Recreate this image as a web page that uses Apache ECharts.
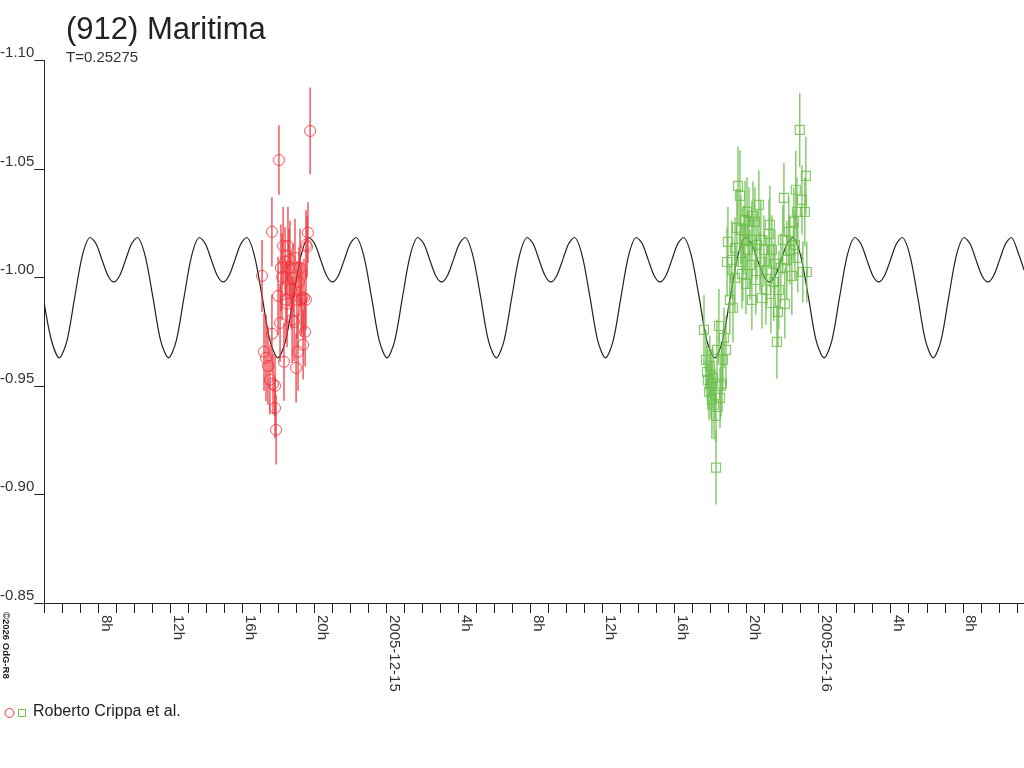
<!DOCTYPE html>
<html>
<head>
<meta charset="utf-8">
<title>(912) Maritima</title>
<script src="https://cdn.jsdelivr.net/npm/echarts@6.0.0/dist/echarts.min.js"></script>
<style>
  html, body { margin: 0; padding: 0; background: #fff; }
  #chart { width: 1024px; height: 768px; }
</style>
</head>
<body>
<div id="chart"></div>
<script>
// hours counted from 2005-12-14 00:00 UT, magnitudes are relative (axis inverted)
var dayLabels = ['2005-12-14', '2005-12-15', '2005-12-16'];
var yTicks = [-1.10, -1.05, -1.00, -0.95, -0.90, -0.85];

// fitted lightcurve, one row per rotation (P = 0.25275 d)
var curveHours = [5.00, 5.40,
  5.83, 6.26, 6.69, 7.12, 7.55, 7.88, 8.20, 8.53, 8.86, 9.19, 9.52, 9.84, 10.16, 10.59, 11.03, 11.46,
  11.90, 12.33, 12.76, 13.19, 13.62, 13.95, 14.27, 14.60, 14.93, 15.26, 15.59, 15.91, 16.23, 16.66, 17.10, 17.53,
  17.97, 18.40, 18.83, 19.26, 19.69, 20.02, 20.34, 20.67, 21.00, 21.33, 21.66, 21.98, 22.30, 22.73, 23.17, 23.60,
  24.03, 24.46, 24.89, 25.32, 25.75, 26.08, 26.40, 26.73, 27.06, 27.39, 27.72, 28.04, 28.36, 28.79, 29.23, 29.66,
  30.10, 30.53, 30.96, 31.39, 31.82, 32.15, 32.47, 32.80, 33.13, 33.46, 33.79, 34.11, 34.43, 34.86, 35.30, 35.73,
  36.16, 36.59, 37.02, 37.45, 37.88, 38.21, 38.53, 38.86, 39.19, 39.52, 39.85, 40.17, 40.49, 40.92, 41.36, 41.79,
  42.23, 42.66, 43.09, 43.52, 43.95, 44.28, 44.60, 44.93, 45.26, 45.59, 45.92, 46.24, 46.56, 46.99, 47.43, 47.86,
  48.30, 48.73, 49.16, 49.59, 50.02, 50.35, 50.67, 51.00, 51.33, 51.66, 51.99, 52.31, 52.63, 53.06, 53.50, 53.93,
  54.36, 54.79, 55.22, 55.65, 56.08, 56.41, 56.73, 57.06, 57.39, 57.72, 58.05, 58.37, 58.69, 59.12, 59.40];
var curveMags = [-0.988, -0.971,
  -0.963, -0.971, -0.991, -1.0104, -1.0185, -1.0155, -1.0083, -1.001, -0.998, -1.001, -1.0083, -1.0155, -1.0185, -1.0104, -0.991, -0.971,
  -0.963, -0.971, -0.991, -1.0104, -1.0185, -1.0155, -1.0083, -1.001, -0.998, -1.001, -1.0083, -1.0155, -1.0185, -1.0104, -0.991, -0.971,
  -0.963, -0.971, -0.991, -1.0104, -1.0185, -1.0155, -1.0083, -1.001, -0.998, -1.001, -1.0083, -1.0155, -1.0185, -1.0104, -0.991, -0.971,
  -0.963, -0.971, -0.991, -1.0104, -1.0185, -1.0155, -1.0083, -1.001, -0.998, -1.001, -1.0083, -1.0155, -1.0185, -1.0104, -0.991, -0.971,
  -0.963, -0.971, -0.991, -1.0104, -1.0185, -1.0155, -1.0083, -1.001, -0.998, -1.001, -1.0083, -1.0155, -1.0185, -1.0104, -0.991, -0.971,
  -0.963, -0.971, -0.991, -1.0104, -1.0185, -1.0155, -1.0083, -1.001, -0.998, -1.001, -1.0083, -1.0155, -1.0185, -1.0104, -0.991, -0.971,
  -0.963, -0.971, -0.991, -1.0104, -1.0185, -1.0155, -1.0083, -1.001, -0.998, -1.001, -1.0083, -1.0155, -1.0185, -1.0104, -0.991, -0.971,
  -0.963, -0.971, -0.991, -1.0104, -1.0185, -1.0155, -1.0083, -1.001, -0.998, -1.001, -1.0083, -1.0155, -1.0185, -1.0104, -0.991, -0.971,
  -0.963, -0.971, -0.991, -1.0104, -1.0185, -1.0155, -1.0083, -1.001, -0.998, -1.001, -1.0083, -1.0155, -1.0185, -1.0104, -1.0035];

// first night (red circles)
var redHours = [17.09, 17.20, 17.31, 17.42, 17.53, 17.64, 17.64, 17.70, 17.81, 17.81,
  17.87, 18.03, 18.09, 18.20, 18.26, 18.31, 18.37, 18.42, 18.48, 18.53,
  18.59, 18.64, 18.70, 18.76, 18.81, 18.87, 18.92, 18.98, 19.03, 19.09,
  19.14, 19.20, 19.26, 19.31, 19.37, 19.42, 19.48, 19.53, 19.59, 19.64,
  19.76, 19.53, 17.98, 18.14];
var redMags = [-1.0008, -0.9658, -0.9630, -0.9593, -0.9529, -0.9741, -1.0211, -0.9510, -0.9501, -0.9399,
  -0.9298, -1.0542, -0.9791, -1.0003, -1.0146, -0.9612, -1.0073, -0.9898, -0.9879, -1.0146,
  -1.0045, -1.0082, -0.9944, -0.9806, -0.9999, -0.9796, -1.0091, -0.9584, -0.9898, -0.9658,
  -0.9980, -1.0045, -0.9898, -0.9907, -0.9690, -0.9907, -0.9750, -0.9898, -1.0142, -1.0207,
  -1.0676, -1.0151, -0.9916, -1.0045];
var redErrs = [0.0166, 0.018, 0.020, 0.018, 0.016, 0.018, 0.016, 0.014, 0.014, 0.014,
  0.016, 0.016, 0.018, 0.020, 0.018, 0.018, 0.016, 0.018, 0.020, 0.018,
  0.018, 0.018, 0.018, 0.020, 0.016, 0.018, 0.018, 0.016, 0.018, 0.018,
  0.016, 0.018, 0.017, 0.016, 0.016, 0.018, 0.016, 0.014, 0.014, 0.014,
  0.020, 0.016, 0.018, 0.020];

// second night (green squares)
var greenHours = [41.63, 41.74, 41.80, 41.85, 41.91, 41.96, 42.02, 42.07, 42.13, 42.19,
  42.24, 42.30, 42.30, 42.35, 42.46, 42.52, 42.57, 42.63, 42.68, 42.74,
  42.85, 42.91, 42.96, 43.07, 43.18, 43.24, 43.35, 43.46, 43.52, 43.63,
  43.68, 43.74, 43.79, 43.85, 43.91, 43.96, 44.02, 44.07, 44.13, 44.18,
  44.29, 44.35, 44.46, 44.51, 44.57, 44.68, 44.74, 44.85, 44.96, 45.07,
  45.12, 45.24, 45.29, 45.35, 45.40, 45.51, 45.57, 45.68, 45.74, 45.79,
  45.90, 46.01, 46.07, 46.12, 46.23, 46.34, 46.40, 46.51, 46.62, 46.68,
  46.73, 46.79, 46.84, 46.95, 47.07, 47.12, 47.23, 47.29, 47.34, 43.35,
  44.29, 44.79];
var greenMags = [-0.9759, -0.9621, -0.9565, -0.9529, -0.9474, -0.9593, -0.9511, -0.9437, -0.9538, -0.9414,
  -0.9460, -0.9363, -0.9124, -0.9667, -0.9777, -0.9446, -0.9501, -0.9511, -0.9621, -0.9722,
  -0.9667, -1.0072, -1.0165, -0.9897, -1.0082, -0.9861, -1.0137, -1.0229, -1.0423, -1.0377,
  -1.0220, -1.0017, -1.0072, -1.0174, -1.0266, -0.9971, -1.0303, -1.0128, -1.0257, -1.0059,
  -1.0174, -1.0284, -1.0257, -0.9989, -1.0151, -1.0335, -1.0072, -0.9906, -1.0128, -0.9943,
  -1.0035, -1.0201, -1.0243, -0.9883, -1.0128, -0.9980, -1.0063, -0.9704, -0.9842, -0.9943,
  -1.0045, -1.0174, -1.0368, -0.9879, -1.0082, -1.0211, -1.0128, -1.0008, -1.0257, -1.0151,
  -1.0405, -1.0303, -1.0091, -1.0681, -1.0358, -1.0026, -1.0303, -1.0469, -1.0026, -0.9999,
  -0.9897, -1.0174];
var greenErrs = [0.016, 0.014, 0.012, 0.014, 0.013, 0.014, 0.016, 0.018, 0.014, 0.016,
  0.012, 0.012, 0.017, 0.014, 0.017, 0.014, 0.014, 0.013, 0.014, 0.014,
  0.016, 0.016, 0.016, 0.016, 0.018, 0.016, 0.014, 0.018, 0.018, 0.021,
  0.016, 0.016, 0.018, 0.016, 0.018, 0.014, 0.016, 0.018, 0.016, 0.016,
  0.018, 0.016, 0.016, 0.016, 0.016, 0.016, 0.014, 0.014, 0.016, 0.016,
  0.016, 0.016, 0.018, 0.014, 0.016, 0.018, 0.016, 0.017, 0.016, 0.018,
  0.016, 0.016, 0.016, 0.016, 0.018, 0.016, 0.016, 0.018, 0.016, 0.016,
  0.018, 0.016, 0.016, 0.017, 0.016, 0.014, 0.016, 0.018, 0.014, 0.016,
  0.014, 0.018];

var RED = '#ee2f36';
var GREEN = '#6cbe4b';
var INK = '#222';
var FONT = '"Liberation Sans", Arial, sans-serif';

function zip(xs, ys, es) {
  var out = [];
  for (var i = 0; i < xs.length; i++) {
    out.push(es ? [xs[i], ys[i], es[i]] : [xs[i], ys[i]]);
  }
  return out;
}

function errorBars(color) {
  return function (params, api) {
    var x = api.value(0), y = api.value(1), e = api.value(2);
    var p1 = api.coord([x, y - e]);
    var p2 = api.coord([x, y + e]);
    return {
      type: 'line',
      shape: { x1: p1[0], y1: p1[1], x2: p2[0], y2: p2[1] },
      style: { stroke: color, lineWidth: 1.2 }
    };
  };
}

var chart = echarts.init(document.getElementById('chart'), null, { renderer: 'canvas' });

chart.setOption({
  animation: false,
  backgroundColor: '#fff',
  grid: { left: 44.3, right: 0, top: 60.7, bottom: 165, outerBoundsMode: 'none', containLabel: false },
  xAxis: {
    type: 'value',
    min: 5,
    max: 59.4,
    interval: 1,
    axisLine: { lineStyle: { color: INK, width: 1 } },
    axisTick: { length: 10, lineStyle: { color: INK } },
    splitLine: { show: false },
    axisLabel: {
      interval: 0,
      rotate: -90,
      margin: 12,
      verticalAlign: 'bottom',
      showMaxLabel: false,
      color: '#333',
      fontSize: 15,
      fontFamily: FONT,
      formatter: function (v) {
        var r = Math.round(v);
        if (Math.abs(v - r) > 1e-6 || r % 4 !== 0) return '';
        if (r % 24 === 0) return dayLabels[r / 24];
        return (r % 24) + 'h';
      }
    }
  },
  yAxis: {
    type: 'value',
    inverse: true,
    min: yTicks[0],
    max: yTicks[yTicks.length - 1],
    interval: 0.05,
    axisLine: { show: true, lineStyle: { color: INK, width: 1 } },
    axisTick: { show: true, length: 10, lineStyle: { color: INK } },
    splitLine: { show: false },
    axisLabel: {
      margin: 10,
      verticalAlign: 'bottom',
      color: '#333',
      fontSize: 15,
      fontFamily: FONT,
      formatter: function (v) { return v.toFixed(2); }
    }
  },
  graphic: [
    { type: 'text', left: 66, top: 15, style: { text: '(912) Maritima', fill: INK, font: '31px ' + FONT } },
    { type: 'text', left: 66, top: 50, style: { text: 'T=0.25275', fill: '#333', font: '15px ' + FONT } },
    { type: 'line', shape: { x1: 36, y1: 603.5, x2: 45, y2: 603.5 }, style: { stroke: INK, lineWidth: 1 } },
    { type: 'text', x: 1, y: 612, rotation: -Math.PI / 2,
      style: { text: '\u00a92026 OdG-R8', fill: '#222', font: 'bold 9.5px ' + FONT, verticalAlign: 'bottom' } },
    { type: 'circle', shape: { cx: 9.5, cy: 713, r: 4.5 }, style: { fill: 'none', stroke: RED, lineWidth: 1 } },
    { type: 'rect', shape: { x: 18.5, y: 709.5, width: 7, height: 7 }, style: { fill: 'none', stroke: GREEN, lineWidth: 1 } },
    { type: 'text', x: 33, y: 712, style: { text: 'Roberto Crippa et al.', fill: '#222', font: '16px ' + FONT, verticalAlign: 'middle' } }
  ],
  series: [
    {
      type: 'line',
      data: zip(curveHours, curveMags),
      smooth: 0.3,
      showSymbol: false,
      lineStyle: { color: INK, width: 1.2 },
      z: 3
    },
    {
      type: 'custom',
      renderItem: errorBars(RED),
      data: zip(redHours, redMags, redErrs),
      z: 4
    },
    {
      type: 'scatter',
      data: zip(redHours, redMags),
      symbol: 'circle',
      symbolSize: 11,
      itemStyle: { color: 'rgba(0,0,0,0)', borderColor: RED, borderWidth: 1 },
      z: 5
    },
    {
      type: 'custom',
      renderItem: errorBars(GREEN),
      data: zip(greenHours, greenMags, greenErrs),
      z: 4
    },
    {
      type: 'scatter',
      data: zip(greenHours, greenMags),
      symbol: 'rect',
      symbolSize: 9,
      itemStyle: { color: 'rgba(0,0,0,0)', borderColor: GREEN, borderWidth: 1.2 },
      z: 5
    }
  ]
});

window.addEventListener('resize', function () {
  chart.resize();
});
</script>
</body>
</html>
